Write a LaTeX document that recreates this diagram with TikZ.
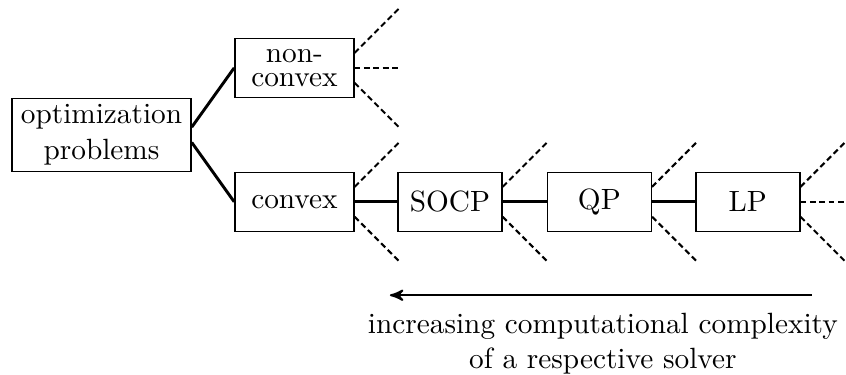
\documentclass[tikz,border=0pt]{standalone}
\usetikzlibrary{arrows}

\begin{document}
\begin{tikzpicture}[
    >=stealth',
    box/.style = {
      draw,
      line width = 0.5pt,
      rectangle,
      align = center,
      inner sep = 2pt,
      minimum width = 1.247cm,
      minimum height = 0.708cm
    },
    branch/.style = {line width = 1pt},
    stub/.style = {line width = 0.7pt, dash pattern = on 2pt off 1.2pt}
  ]
  \useasboundingbox (0,0) rectangle (10.15,4.49);

  \node[box, minimum width=2.147cm, minimum height=0.876cm] (opt) at (1.218,2.873) {optimization\\problems};
  \node[box, minimum width=1.427cm] (nc)   at (3.532,3.676) {non-\\[-3.8pt]convex};
  \node[box, minimum width=1.427cm] (cv)   at (3.532,2.069) {convex};
  \node[box]                        (socp) at (5.398,2.069) {SOCP};
  \node[box]                        (qp)   at (7.191,2.069) {QP};
  \node[box]                        (lp)   at (8.972,2.069) {LP};

  \draw[branch] ([yshift=2.6pt]opt.east) -- (nc.west);
  \draw[branch] ([yshift=-2.6pt]opt.east) -- (cv.west);
  \draw[branch] (cv) -- (socp);
  \draw[branch] (socp) -- (qp);
  \draw[branch] (qp) -- (lp);

  % open ends
  \foreach \n in {nc,cv,socp,qp,lp} {
    \draw[stub] ([yshift=5.1pt]\n.east) -- ++(0.53,0.53);
    \draw[stub] ([yshift=-5.1pt]\n.east) -- ++(0.53,-0.53);
  }
  \draw[stub] (nc.east) -- ++(0.53,0);
  \draw[stub] (lp.east) -- ++(0.56,0);

  \coordinate (arrR) at (9.74,0.948);
  \coordinate (arrL) at (4.678,0.948);
  \draw[->, line width=0.7pt] (arrR) -- (arrL);
  \node[anchor=north, align=center] (note) at (7.233,0.853)
    {increasing computational complexity\\of a respective solver};
\end{tikzpicture}
\end{document}
